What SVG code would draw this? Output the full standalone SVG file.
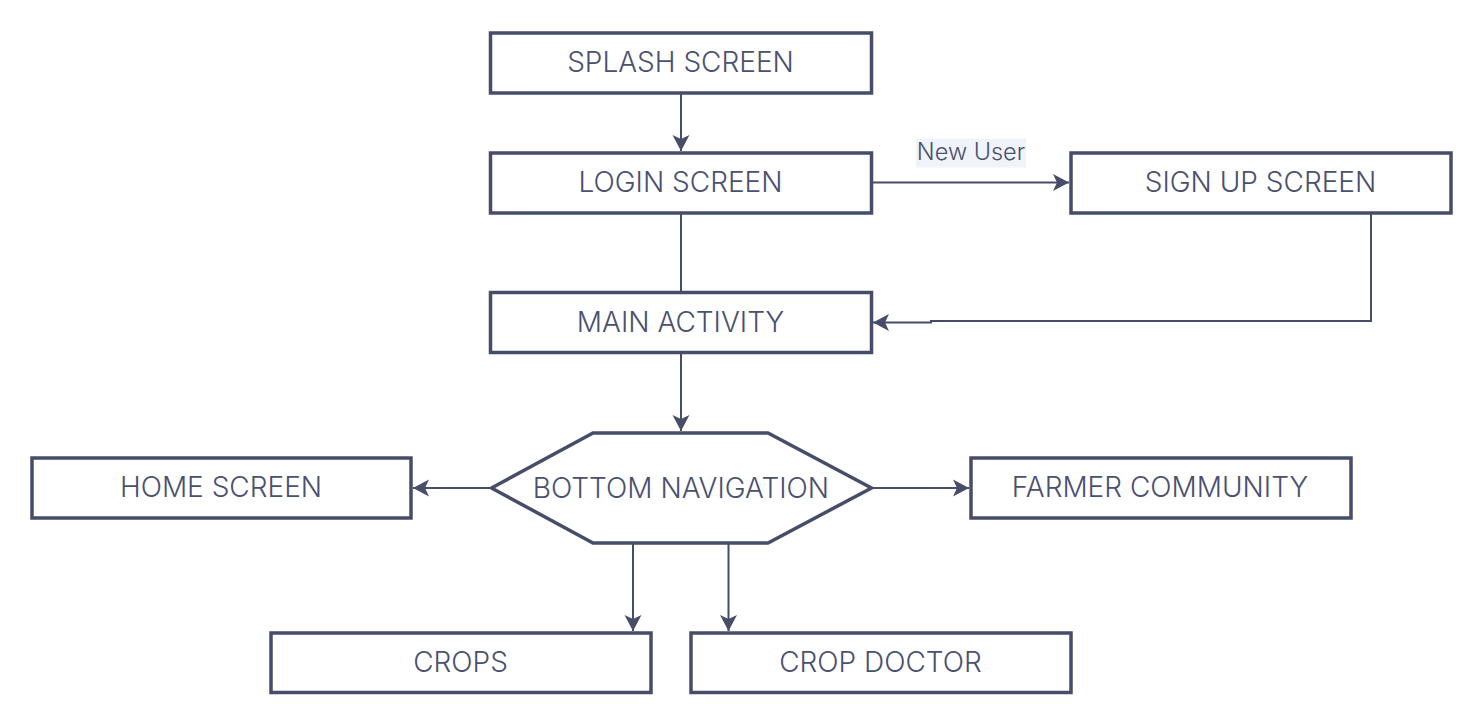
<svg xmlns="http://www.w3.org/2000/svg" width="1484" height="726" viewBox="0 0 1484 726">
  <style>
    .box { fill: #ffffff; stroke: #474d69; stroke-width: 3.5; }
    .lbl { font-family: Inter, "Liberation Sans", sans-serif; font-size: 28px; font-weight: 300; fill: #4a5070; text-anchor: middle; dominant-baseline: central; }
    .edge { fill: none; stroke: #474d69; stroke-width: 2; }
    .elbl { font-family: Inter, "Liberation Sans", sans-serif; font-size: 23.5px; font-weight: 300; fill: #4a5070; text-anchor: middle; dominant-baseline: central; }
  </style>
  <defs>
    <marker id="arr" markerUnits="userSpaceOnUse" markerWidth="20" markerHeight="20" viewBox="-17 -10 20 20" refX="0" refY="0" orient="auto">
      <path d="M0,0 L-16,-8.5 L-12,0 L-16,8.5 Z" fill="#474d69"/>
    </marker>
  </defs>
  <rect width="1484" height="726" fill="#ffffff"/>

  <g id="connectors">
    <path class="edge" d="M681,94 L681,151" marker-end="url(#arr)"/>
    <path class="edge" d="M681,214 L681,291"/>
    <path class="edge" d="M872,182.5 L1069,182.5" marker-end="url(#arr)"/>
    <path class="edge" d="M1371,214 L1371,321 L931,321 L931,322.5 L873,322.5" marker-end="url(#arr)"/>
    <path class="edge" d="M681,353 L681,431" marker-end="url(#arr)"/>
    <path class="edge" d="M491,488 L413,488" marker-end="url(#arr)"/>
    <path class="edge" d="M872,488 L969,488" marker-end="url(#arr)"/>
    <path class="edge" d="M633,544 L633,631" marker-end="url(#arr)"/>
    <path class="edge" d="M728.5,544 L728.5,631" marker-end="url(#arr)"/>
    <g id="label-new-user">
      <rect x="916" y="138.5" width="110" height="29" fill="#f0f4fa"/>
      <text class="elbl" x="971" y="151.5">New User</text>
    </g>
  </g>

  <g id="splash">
    <rect class="box" x="490.5" y="33" width="381" height="60"/>
    <text class="lbl" x="680.5" y="62">SPLASH SCREEN</text>
  </g>
  <g id="login">
    <rect class="box" x="490.5" y="153" width="381" height="60"/>
    <text class="lbl" x="680.5" y="182">LOGIN SCREEN</text>
  </g>
  <g id="signup">
    <rect class="box" x="1071" y="153" width="380" height="60"/>
    <text class="lbl" x="1260.5" y="182">SIGN UP SCREEN</text>
  </g>
  <g id="main">
    <rect class="box" x="490.5" y="292.5" width="381" height="60"/>
    <text class="lbl" x="680.5" y="321.5">MAIN ACTIVITY</text>
  </g>
  <g id="bottomnav">
    <polygon class="box" points="491.5,488 593,433 768,433 871.5,488 768,543 593,543"/>
    <text class="lbl" x="681" y="487.5">BOTTOM NAVIGATION</text>
  </g>
  <g id="home">
    <rect class="box" x="32" y="458" width="379" height="60"/>
    <text class="lbl" x="221" y="487">HOME SCREEN</text>
  </g>
  <g id="farmer">
    <rect class="box" x="971" y="458" width="380" height="60"/>
    <text class="lbl" x="1160" y="487">FARMER COMMUNITY</text>
  </g>
  <g id="crops">
    <rect class="box" x="271" y="633" width="380" height="59.5"/>
    <text class="lbl" x="460.5" y="662">CROPS</text>
  </g>
  <g id="cropdoctor">
    <rect class="box" x="691" y="633" width="380" height="59.5"/>
    <text class="lbl" x="880.5" y="662">CROP DOCTOR</text>
  </g>
</svg>
